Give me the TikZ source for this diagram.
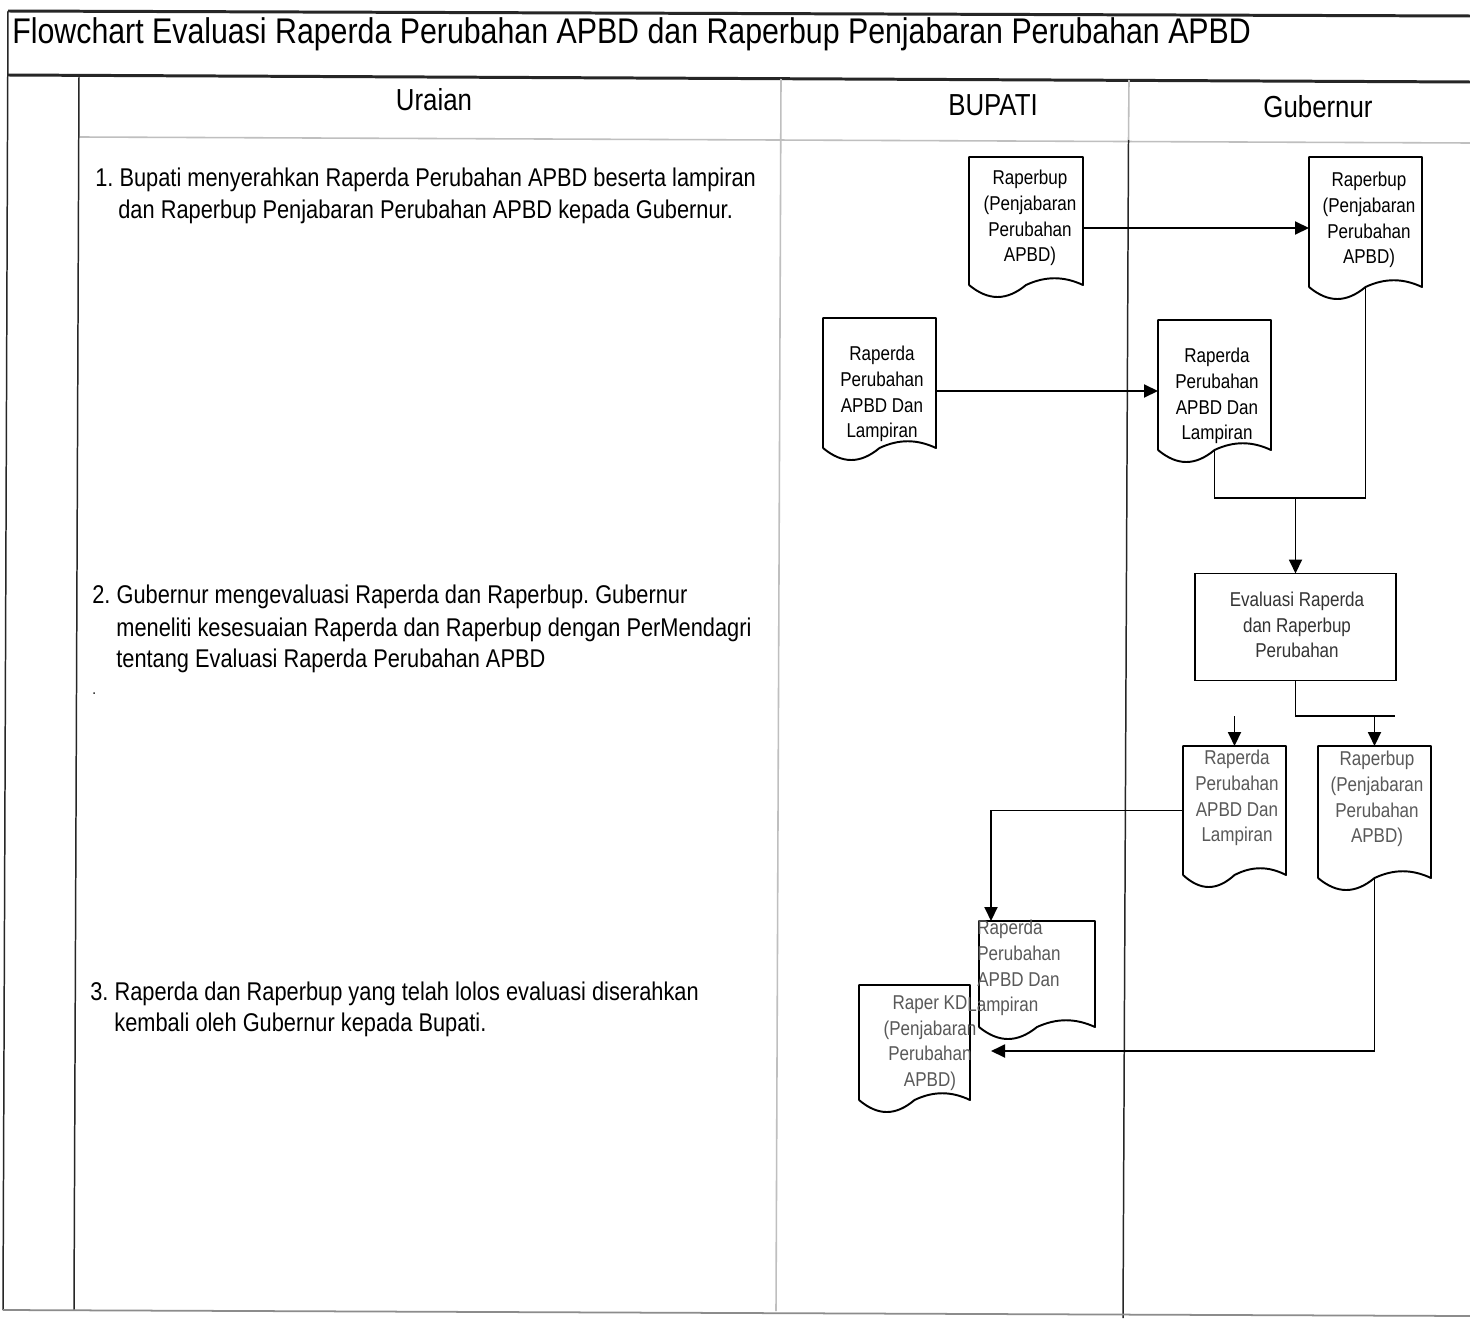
\documentclass[tikz,border=0pt]{standalone}
\usepackage{fontspec}
\setmainfont{Liberation Sans}[FakeStretch=0.85]
\usetikzlibrary{arrows.meta,calc}
\frenchspacing

\tikzset{
  framedark/.style={line width=0.85pt, draw=black!85},
  framelight/.style={line width=0.9pt, draw=black!25},
  framethick/.style={line width=1.7pt, draw=black!85},
  conn/.style={line width=1.1pt, draw=black},
  arr/.style={conn, -{Triangle[length=0.28cm,width=0.26cm]}},
  docbox/.style={draw=none, inner sep=0pt, outer sep=0pt},
  docline/.style={line width=1.1pt, draw=black, line join=round},
  procbox/.style={draw, line width=1.1pt, inner sep=0pt, outer sep=0pt},
  doctext/.style={align=center, inner sep=0pt, font=\fontsize{11.4}{14.6}\selectfont},
  doctextgray/.style={doctext, text=black!65},
  bodytext/.style={anchor=base west, inner sep=0pt, font=\fontsize{14.6}{18}\selectfont},
  headtext/.style={anchor=base, inner sep=0pt, font=\fontsize{17.3}{20}\selectfont},
  titletext/.style={anchor=base west, inner sep=0pt, font=\fontsize{20.3}{24}\selectfont},
}

% document symbol: rectangle with a wavy lower edge (name, left, top, right, bottom in px)
\newcommand{\docsym}[5]{%
  \node[docbox, minimum width={(#4-#2)*0.02cm}, minimum height={(#5-#3)*0.02cm}]
    (#1) at ({(#2+#4)/2},{(#3+#5)/2}) {};
  \draw[docline] (#1.south west) -- (#1.north west) -- (#1.north east) -- (#1.south east)
    .. controls +({-0.17*(#4-#2)},-9) and +({0.17*(#4-#2)},-9) .. (#1.south)
    .. controls +({-0.17*(#4-#2)},16) and +({0.17*(#4-#2)},16) .. (#1.south west);
}

\begin{document}
\begin{tikzpicture}[x=0.02cm, y=-0.02cm]
  \useasboundingbox[fill=white] (0,0) rectangle (1470,1318);

  % ---- swimlane frame ----
  \draw[framethick] (8,11) -- (1470,16);
  \draw[framethick] (8,75) -- (1470,82);
  \draw[framedark] (8,11) -- (3,1310);
  \draw[framedark] (79,77) -- (74,1310);
  \draw[framelight] (80,137) -- (1470,143);
  \draw[framelight] (781,79) -- (776,1311);
  \draw[framelight] (1129,80) -- (1128.5,140);
  \draw[framedark] (1128.5,140) -- (1123,1318);
  \draw[line width=1pt, draw=black!45] (3,1310) -- (1470,1316);

  % ---- title and lane headings ----
  \node[titletext] (title) at (12,44) {Flowchart Evaluasi Raperda Perubahan APBD dan Raperbup Penjabaran Perubahan APBD};
  \node[headtext] (hUraian) at (434,111) {Uraian};
  \node[headtext] (hBupati) at (993,115) {BUPATI};
  \node[headtext] (hGub) at (1318,117) {Gubernur};

  % ---- step descriptions ----
  \node[bodytext] (i1a) at (95,186) {1. Bupati menyerahkan Raperda Perubahan APBD beserta lampiran};
  \node[bodytext] (i1b) at (118,218) {dan Raperbup Penjabaran Perubahan APBD kepada Gubernur.};
  \node[bodytext] (i2a) at (92,603) {2. Gubernur mengevaluasi Raperda dan Raperbup. Gubernur};
  \node[bodytext] (i2b) at (116,636) {meneliti kesesuaian Raperda dan Raperbup dengan PerMendagri};
  \node[bodytext] (i2c) at (116,667) {tentang Evaluasi Raperda Perubahan APBD};
  \node[bodytext, font=\fontsize{9}{10}\selectfont] (i2dot) at (92,694) {.};
  \node[bodytext] (i3a) at (90,1000) {3. Raperda dan Raperbup yang telah lolos evaluasi diserahkan};
  \node[bodytext] (i3b) at (114,1031) {kembali oleh Gubernur kepada Bupati.};

  % ---- step 1: documents sent to the governor ----
  \docsym{D1}{969}{157}{1083}{285}
  \docsym{D2}{1309}{157}{1422}{287}
  \docsym{D3}{823}{318}{936}{448}
  \docsym{D4}{1158}{320}{1271}{450}
  \node[doctext] (tD1) at (1030,218) {Raperbup\\(Penjabaran\\Perubahan\\APBD)};
  \node[doctext] (tD2) at (1369,220) {Raperbup\\(Penjabaran\\Perubahan\\APBD)};
  \node[doctext] (tD3) at (882,394) {Raperda\\Perubahan\\APBD Dan\\Lampiran};
  \node[doctext] (tD4) at (1217,396) {Raperda\\Perubahan\\APBD Dan\\Lampiran};

  \draw[arr] (D1.east) ++(0,7) coordinate (a1) -- (a1 -| D2.west);
  \draw[arr] (D3.east) ++(0,8) coordinate (a2) -- (a2 -| D4.west);

  % ---- step 2: evaluation ----
  \node[procbox, minimum width={201*0.02cm}, minimum height={107*0.02cm}] (Eval) at (1295.5,627) {};
  \node[doctextgray, text=black!80] (tEval) at (1297,625) {Evaluasi Raperda\\dan Raperbup\\Perubahan};

  \coordinate (j1) at (1295.5,498);
  \draw[conn] (D4.south) |- (j1) -| (D2.south);
  \draw[arr] (j1) -- (Eval.north);

  \docsym{D5}{1183}{746}{1286}{875}
  \docsym{D6}{1318}{746}{1431}{878}
  \node[doctextgray] (tD5) at (1237,798) {Raperda\\Perubahan\\APBD Dan\\Lampiran};
  \node[doctextgray] (tD6) at (1377,799) {Raperbup\\(Penjabaran\\Perubahan\\APBD)};

  \coordinate (j2) at (1374.5,716);
  \coordinate (j2end) at (1395,716);
  \coordinate (s5) at (1234.5,716);
  \draw[conn] (Eval.south) |- (j2end);
  \draw[arr] (j2) -- (D6.north);
  \draw[arr] (s5) -- (D5.north);

  % ---- step 3: documents returned to the regent ----
  \docsym{D8}{859}{985}{970}{1100}
  \docsym{D7}{979}{921}{1095}{1027}
  \node[doctextgray, align=left, anchor=west] (tD7) at (977,968) {Raperda\\Perubahan\\APBD Dan\\\hspace*{-0.2cm}Lampiran};
  \node[doctextgray] (tD8) at (930,1043) {Raper KD\\(Penjabaran\\Perubahan\\APBD)};

  \draw[arr] (D5.west) -| ($(D7.north west)+(12,0)$);
  \coordinate (ret) at (991,1051);
  \draw[arr] (D6.south) |- (ret);
\end{tikzpicture}
\end{document}
